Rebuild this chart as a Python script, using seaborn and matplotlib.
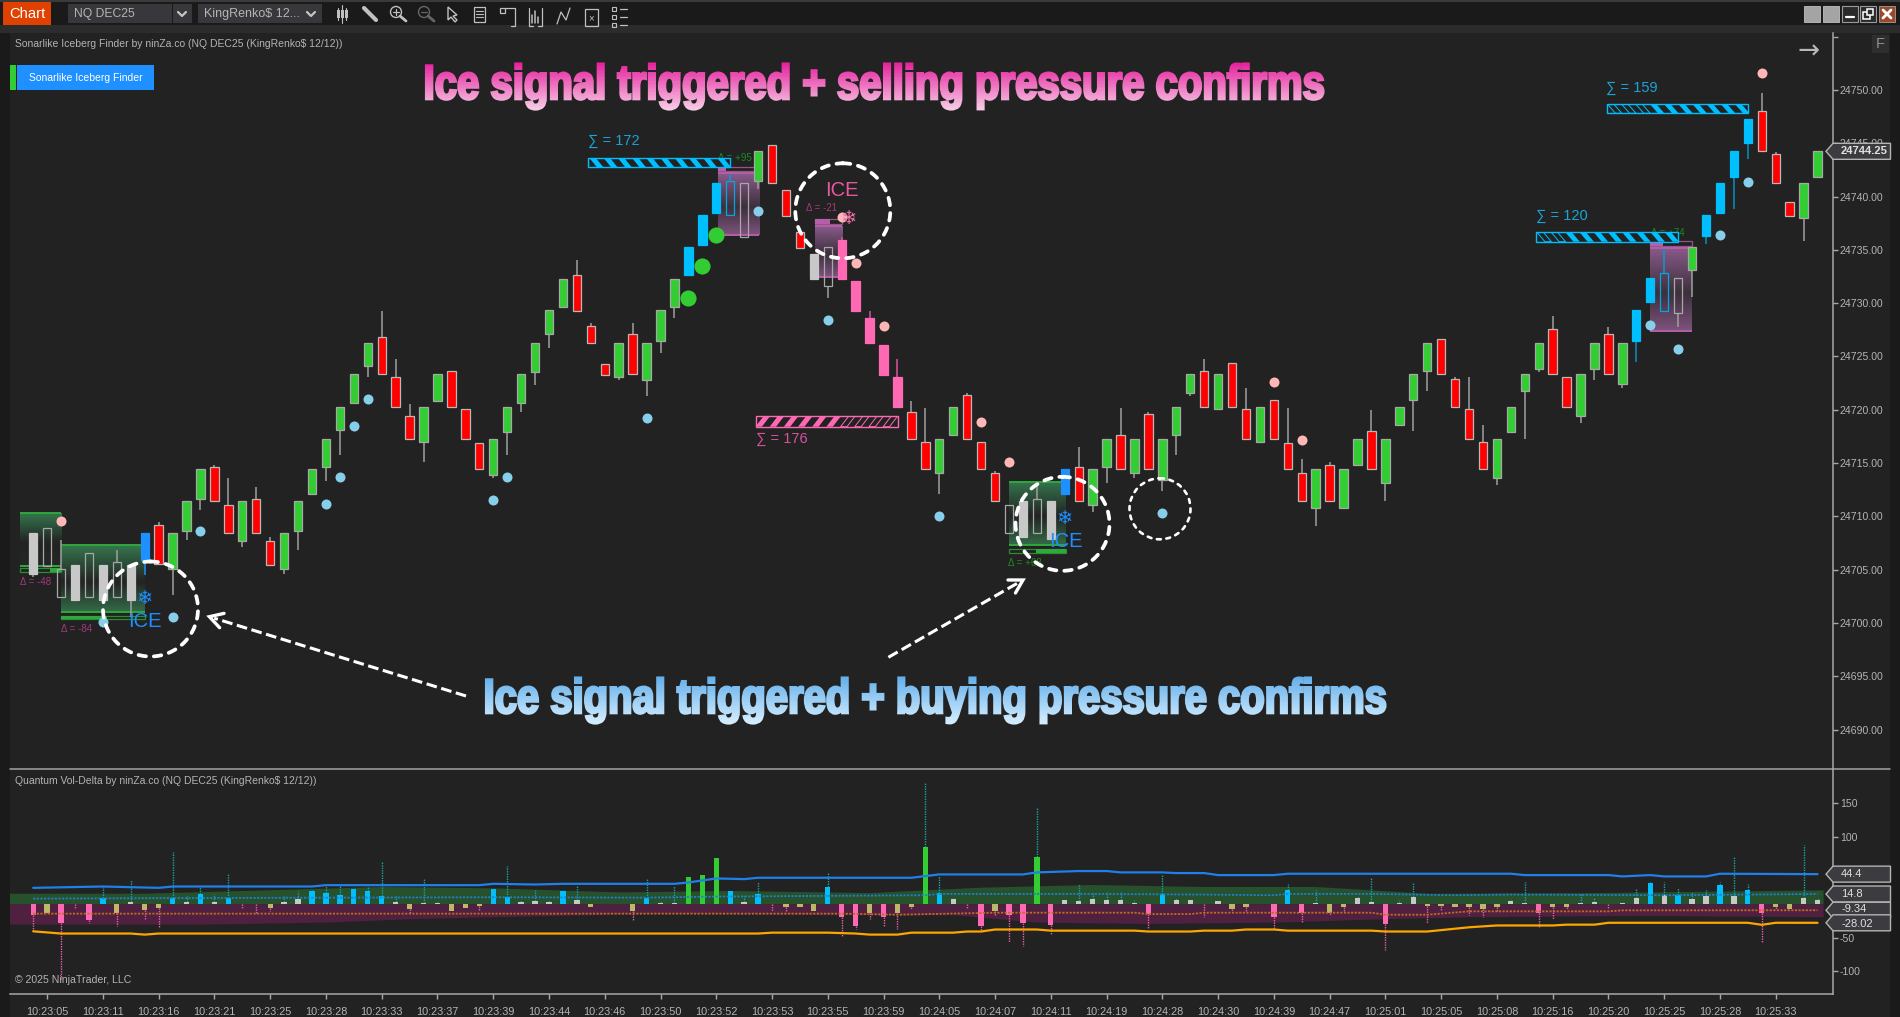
import numpy as np
import pandas as pd
import matplotlib
matplotlib.use("Agg")
import matplotlib.pyplot as plt
from matplotlib.font_manager import FontProperties
from matplotlib.patches import Rectangle, Circle, Polygon
from matplotlib.patheffects import AbstractPathEffect
from matplotlib.textpath import TextPath
from matplotlib.transforms import Affine2D, Bbox
import seaborn as sns

# ---- candles (renko bars, one per slot) ----
body_top = [
    24708.4, 24708.9, 24705.1, 24705.4, 24706.6, 24705.4, 24705.7, 24705.4, 24708.4, 24709.2,
    24708.4, 24711.4, 24714.4, 24714.6, 24711.1, 24711.4, 24711.6, 24707.7, 24708.4, 24711.4,
    24714.4, 24717.3, 24720.3, 24723.4, 24726.3, 24726.8, 24723.1, 24719.4, 24720.3, 24723.4,
    24723.6, 24720.1, 24716.9, 24717.3, 24720.3, 24723.4, 24726.3, 24729.4, 24732.3, 24732.6,
    24727.9, 24724.3, 24726.3, 24727.1, 24726.3, 24729.4, 24732.3, 24735.3, 24738.3, 24741.3,
    24741.5, 24741.3, 24744.3, 24744.8, 24740.6, 24736.7, 24734.6, 24735.3, 24735.9, 24732.1,
    24728.6, 24726.1, 24723.1, 24719.8, 24717.0, 24717.3, 24720.3, 24721.4, 24717.0, 24714.1,
    24711.1, 24711.4, 24711.6, 24711.4, 24714.4, 24714.6, 24714.4, 24717.3, 24717.6, 24717.3,
    24719.6, 24717.3, 24720.3, 24723.4, 24723.6, 24723.4, 24724.4, 24720.1, 24720.3, 24720.9,
    24716.9, 24714.1, 24714.4, 24714.8, 24714.4, 24717.3, 24718.0, 24717.3, 24720.3, 24723.4,
    24726.3, 24726.6, 24722.9, 24720.1, 24717.0, 24717.3, 24720.3, 24723.4, 24726.3, 24727.6,
    24723.1, 24723.4, 24726.3, 24727.1, 24726.3, 24729.4, 24732.4, 24732.8, 24732.4, 24735.3,
    24738.3, 24741.3, 24744.3, 24747.3, 24748.0, 24744.0, 24739.5, 24741.3, 24744.3,
]
body_bot = [
    24704.6, 24705.3, 24702.4, 24702.2, 24702.4, 24702.2, 24702.4, 24702.2, 24705.9, 24705.5,
    24705.1, 24708.6, 24711.6, 24711.4, 24708.4, 24707.7, 24708.4, 24705.4, 24705.1, 24708.6,
    24712.1, 24714.6, 24718.1, 24720.6, 24724.1, 24723.4, 24720.3, 24717.3, 24717.0, 24720.8,
    24720.3, 24717.3, 24714.4, 24713.9, 24717.9, 24720.6, 24723.5, 24727.1, 24729.6, 24729.3,
    24726.3, 24723.3, 24723.1, 24723.4, 24722.8, 24726.5, 24729.6, 24732.6, 24735.5, 24738.5,
    24738.3, 24736.2, 24741.5, 24741.3, 24738.2, 24735.2, 24732.3, 24731.6, 24732.3, 24729.3,
    24726.3, 24723.3, 24720.3, 24717.3, 24714.4, 24714.1, 24717.6, 24717.3, 24714.4, 24711.4,
    24708.4, 24708.1, 24708.4, 24707.9, 24712.1, 24711.4, 24711.1, 24714.6, 24714.4, 24714.1,
    24714.4, 24713.4, 24717.6, 24721.6, 24720.3, 24720.1, 24720.3, 24717.3, 24717.0, 24717.3,
    24714.4, 24711.4, 24710.8, 24711.4, 24710.8, 24714.8, 24714.4, 24713.1, 24718.6, 24720.9,
    24723.6, 24723.4, 24720.3, 24717.3, 24714.4, 24713.6, 24717.9, 24721.8, 24723.8, 24723.4,
    24720.3, 24719.4, 24723.8, 24723.4, 24722.4, 24726.5, 24730.1, 24729.3, 24729.1, 24733.1,
    24736.3, 24738.5, 24741.8, 24745.0, 24744.3, 24741.3, 24738.2, 24738.0, 24741.8,
]
candle_kind = (
    "s h h s h s h s d r  g g g r r g r r g g  g g g g g r r r g g  r r r g g g g g g r "
    "r r g r g g g b b b  B h g r r r s h p p  p p p r r g g r r r  h s h s d r g g r g "
    "r g g g r g r r g r  r r g r g g r g g g  g r r r r g g g g r  r g g r g b b B h g "
    "b b b b r r r g g"
).split()
wick_high = {
    2: 24707.8, 6: 24706.8, 9: 24709.5, 13: 24714.8, 14: 24713.6, 16: 24712.8, 17: 24708.1,
    25: 24729.3, 26: 24724.8, 27: 24720.5, 39: 24734.1, 40: 24728.1, 43: 24728.1, 50: 24742.1,
    58: 24736.25, 60: 24729.3, 62: 24724.8, 63: 24720.8, 64: 24720.2, 67: 24721.6, 69: 24714.3,
    72: 24712.9, 75: 24716.5, 78: 24720.2, 80: 24719.8, 84: 24724.8, 87: 24722.0, 90: 24720.2,
    91: 24715.4, 93: 24715.1, 96: 24720.0, 102: 24723.05, 103: 24723.05, 104: 24718.6,
    109: 24728.8, 113: 24727.8, 117: 24735.2, 124: 24749.7, 125: 24744.2,
}
wick_low = {
    0: 24704.3, 7: 24700.6, 8: 24704.5, 10: 24702.6, 11: 24707.8, 12: 24710.6, 15: 24707.1,
    18: 24704.6, 19: 24706.8, 21: 24713.3, 22: 24715.8, 24: 24723.1, 28: 24715.1, 33: 24713.6,
    34: 24715.8, 35: 24719.8, 36: 24722.3, 37: 24725.8, 42: 24722.8, 44: 24721.3, 45: 24725.3,
    46: 24728.6, 52: 24740.7, 57: 24730.5, 65: 24712.1, 76: 24710.4, 77: 24713.1, 79: 24713.6,
    81: 24712.4, 82: 24715.8, 83: 24721.3, 92: 24709.1, 97: 24711.4, 99: 24718.05, 100: 24721.8,
    105: 24712.9, 107: 24717.3, 108: 24723.5, 111: 24718.8, 112: 24722.8, 114: 24722.0,
    115: 24724.5, 118: 24727.8, 119: 24730.6, 120: 24735.6, 122: 24738.8, 123: 24743.5, 127: 24735.8,
}

# ---- signal dots ----
sky_i = [12, 21, 22, 23, 24, 33, 34, 44, 5, 10, 52, 57, 65, 81, 116, 118, 121, 123]
sky_p = [24708.6, 24711.2, 24713.7, 24718.5, 24721.0, 24711.55, 24713.7, 24719.2, 24700.1, 24700.6,
         24738.65, 24728.4, 24710.0, 24710.3, 24728.0, 24725.7, 24736.4, 24741.4]
rose_i = [2, 58, 59, 61, 68, 70, 89, 91, 124]
rose_p = [24709.6, 24738.1, 24733.8, 24727.9, 24718.9, 24715.1, 24722.65, 24717.2, 24751.6]
lime_i = [47, 48, 49]
lime_p = [24730.5, 24733.5, 24736.4]

# ---- iceberg zones ----
zone_start = [-0.95, 2.0, 49.13, 56.1, 70.03, 116.0]
zone_end = [2.02, 8.0, 52.1, 58.05, 74.1, 119.0]
zone_top = [24710.3, 24707.27, 24742.2, 24737.25, 24713.26, 24735.2]
zone_bot = [24705.36, 24700.99, 24736.4, 24732.5, 24707.3, 24727.4]
strip_top = [24705.2, 24700.7, 24742.8, 24737.9, 24706.95, 24735.85]
strip_bot = [24704.75, 24700.36, 24742.4, 24737.4, 24706.55, 24735.4]
zone_side = ["buy", "buy", "sell", "sell", "buy", "sell"]
strip_fill = [(0.72, 1.0), (0.0, 0.55), (0.0, 0.2), (0.0, 0.55), (0.47, 1.0), (0.0, 0.3)]

price_ticks = [24690, 24695, 24700, 24705, 24710, 24715, 24720, 24725, 24730, 24735, 24740, 24745, 24750]
last_price = 24744.25

# ---- lower panel: volume delta ----
delta = [
    -16, -13, -29, 0, -24, 9, -13, 3, -9, -6,
    9, 3, 15, 3, 9, 0, 0, -6, 3, 7.5,
    20, 16, 13, 22, 19, 12, 3, -8, 1.5, 1.5,
    -10, -6, -3, 22, 10, 3, 4.5, 3, 19, 6,
    -4, 0, 0, -10, 9, 1, 2, 40, 43, 69,
    19, 3, 15, 0, -4, -5, -10, 25, -20, -33,
    -13, -20, -14, -4, 85, 16, 7, 0, -33, -10,
    -17, -29, 70, -32, 6, 4.5, 7.5, 6, 6, 1,
    -15, 15, 6, 6, 0, 4.5, -7, -4, 0, -19,
    21, -13, 1, -13, -4, 9, 3, -30, 1, 10,
    -3, -3, -4, -4, -7, -4, 4.5, 1, -13, -5,
    -5, 1, 3, 0, 1, 9, 31, 13, 13, 7,
    12, 28, 12, 21, -13, -4, -7, 9, 6,
]
delta_kind = (
    "p k p - p b k s k k  b s b s b - - k s s  b b b b b b s k s s  k k k b b s s s b s "
    "k - - k b s s g g g  b s b - k k k b p p  k p k k g b s - p k  p p g p s s s s s s "
    "p b s s - s k k - p  b p s k k s s p s s  k k k k k k s s p k  k s s - s s b s b s "
    "s b s b p k k s s"
).split()
delta_wick = [
    -42, 0, -112, -6, -28, 25, -33, 36, -22, -34,
    77, 12, 25, 15, 45, -7, -14, -11, 12, 19,
    21, 30, 30, 0, 27, 62, 12, -14, 39, 2.5,
    0, 0, -11, 0, 57, 6, 21, 6, 0, 27,
    0, 0, 0, -26, 39, 4, 27, 0, 0, 0,
    0, 12, 33, -11, -11, 0, 0, 48, -47, -37,
    -22, -34, -37, -8, 180, 42, 9, -8, -40, -17,
    -57, -63, 145, -46, 0, 30, 17, 18, 18, 6,
    -37, 45, 9, 0, -20, 0, -12, -12, 0, -37,
    30, -27, 21, -17, -11, 12, 39, -69, 6, 33,
    -28, -11, 0, -17, -19, -11, 6, 33, -36, -22,
    -7, 15, 9, -8, 3, 24, 32, 33, 24, 18,
    21, 33, 70, 30, -57, -8, 0, 88, 9,
]
upper_band_i = [-1.7, 8, 20, 25, 33, 42, 50, 60, 68, 76, 84, 92, 100, 112, 128.4]
upper_band_v = [16, 16, 23, 26, 24, 18, 20, 17, 25, 29, 26, 26, 16, 17, 21]
lower_band_i = [-1.7, 12, 21, 27, 33, 42, 46, 57, 66, 72, 80, 89, 97, 103, 115, 128.4]
lower_band_v = [-30, -30, -27, -22, -19, -15, -14, -16, -16, -27, -29, -27, -22, -19, -17, -19]
max_i = [0, 5, 9, 10, 20, 21, 32, 33, 36, 38, 46, 47, 49, 51, 52, 63, 65, 71, 72, 75, 77, 78, 81, 82,
         84, 85, 89, 90, 106, 107, 113, 114, 116, 117, 120, 121, 128]
max_v = [24, 26, 24, 26, 26, 28, 28, 30, 29, 30, 30, 32, 38, 37, 39, 39, 44, 44, 47, 49, 49, 47, 47, 46,
         46, 43, 43, 45, 45, 43, 43, 41, 43, 41, 41, 45, 44.4]
min_i = [0, 2, 7, 8, 9, 52, 53, 57, 59, 60, 62, 63, 66, 67, 68, 69, 72, 73, 79, 80, 83, 84, 86, 87, 89,
         90, 96, 97, 100, 103, 105, 109, 110, 112, 113, 123, 124, 125, 128]
min_v = [-40.7, -44, -44, -45.6, -44, -44, -42.7, -42.7, -44, -45.6, -45.6, -42.7, -42.7, -41, -41, -38,
         -38, -39.7, -39.7, -41, -41, -39.7, -39.7, -38, -38, -39.7, -39.7, -41, -41, -34.7, -32, -32,
         -30.8, -30.8, -28, -28, -31, -28, -28.02]
buy_avg_i = [0, 14, 33, 44, 49, 64, 65, 75, 84, 89, 90, 96, 102, 106, 117, 128]
buy_avg_v = [8, 9, 10, 9.4, 11, 13, 15, 15, 14, 13, 15, 15, 13, 14, 13, 14.8]
sell_avg_i = [0, 58, 62, 69, 79, 80, 83, 84, 96, 97, 100, 103, 113, 114, 128]
sell_avg_v = [-14.4, -14.4, -16, -13, -13, -15, -15, -13, -13, -16, -16, -11, -11, -9.5, -9.34]
panel_ticks = [-100, -50, 0, 50, 100, 150]
panel_labels = ["-100", "-50", "", "", "100", "150"]  # 0 and 50 sit behind the value flags
panel_flags = [44.4, 14.8, -9.34, -28.02]

time_ticks = list(range(1, 129, 4))
time_labels = [
    "10:23:05", "10:23:11", "10:23:16", "10:23:21", "10:23:25", "10:23:28", "10:23:33", "10:23:37",
    "10:23:39", "10:23:44", "10:23:46", "10:23:50", "10:23:52", "10:23:53", "10:23:55", "10:23:59",
    "10:24:05", "10:24:07", "10:24:11", "10:24:19", "10:24:28", "10:24:30", "10:24:39", "10:24:47",
    "10:25:01", "10:25:05", "10:25:08", "10:25:16", "10:25:20", "10:25:25", "10:25:28", "10:25:33",
]

BG = "#222222"
TXT = "#b4b4b4"
candle_fill = {"g": "#32cd32", "r": "#ff0000", "b": "#00bfff", "d": "#1e90ff", "p": "#ff69b4", "s": "#c8c8c8",
               "h": "none", "B": "none"}
candle_edge = {"g": "#a8a8a8", "r": "#b8b8b8", "b": "#00bfff", "d": "#1e90ff", "p": "#ff69b4", "s": "#c8c8c8",
               "h": "#a8a8a8", "B": "#00a8e0"}
wick_color = {"b": "#0a8fc0", "B": "#0a9ad0", "d": "#1e90ff", "p": "#e0509c"}
delta_colors = {"b": "#00bfff", "s": "#c8c8c8", "k": "#bdb76b", "p": "#ff69b4", "g": "#32cd32"}

sns.set_theme(style="dark", rc={"axes.facecolor": BG, "figure.facecolor": "#1a1a1a", "axes.grid": False})
plt.rcParams["font.family"] = ["Liberation Sans", "DejaVu Sans"]

W, H = 1900, 1017
fig = plt.figure(figsize=(19, 10.17), dpi=100)


class GradientFill(AbstractPathEffect):
    # fills a text with a vertical colour ramp, and squeezes it into a narrower width
    def __init__(self, top, bottom, squeeze=1.0, bolden=2.0, bands=36):
        self.top = np.array(matplotlib.colors.to_rgb(top))
        self.bottom = np.array(matplotlib.colors.to_rgb(bottom))
        self.squeeze, self.bolden, self.bands = squeeze, bolden, bands

    def draw_path(self, renderer, gc, tpath, affine, rgbFace=None):
        box = tpath.transformed(affine).get_extents()
        aff = affine + Affine2D().translate(-box.x0, 0).scale(self.squeeze, 1).translate(box.x0, 0)
        box = tpath.transformed(aff).get_extents()
        edges = np.linspace(box.y1 + 2, box.y0 - 2, self.bands + 1)
        for k in range(self.bands):
            col = tuple(self.top + (self.bottom - self.top) * k / (self.bands - 1))
            g = renderer.new_gc()
            g.copy_properties(gc)
            g.set_clip_rectangle(Bbox([[box.x0 - 5, edges[k + 1]], [box.x1 + 5, edges[k]]]))
            g.set_linewidth(self.bolden)
            g.set_foreground(col)
            g.set_joinstyle("miter")
            renderer.draw_path(g, tpath, aff, col)
            g.restore()


# ---- pixel layer behind the axes: window, toolbar ----
back = fig.add_axes([0, 0, 1, 1], zorder=-1)
back.set_xlim(0, W)
back.set_ylim(H, 0)
back.axis("off")
back.add_patch(Rectangle((0, 0), W, 2, color="#3a3a3a", lw=0))
back.add_patch(Rectangle((0, 25), W, 8, color="#2c2c2c", lw=0))
back.add_patch(Rectangle((10, 33), 1880, H - 33, color=BG, lw=0))
back.add_patch(Rectangle((3, 2), 48, 23, color="#e04000", lw=0))
back.text(27, 14, "Chart", color="white", fontsize=10.6, ha="center", va="center")
back.add_patch(Rectangle((68, 4), 104, 19, color="#38383c", lw=0))
back.add_patch(Rectangle((173, 4), 19, 19, color="#38383c", lw=0))
back.add_patch(Rectangle((198, 4), 124, 19, color="#38383c", lw=0))
back.text(74, 14, "NQ DEC25", color=TXT, fontsize=8.7, va="center")
back.text(204, 14, "KingRenko$ 12...", color=TXT, fontsize=9, va="center")
for cx in [182, 311]:
    back.plot([cx - 4, cx, cx + 4], [12, 16, 12], color="#c4c4c4", lw=1.6)

ic = "#c0c0c0"
for cx, h in zip([338, 342, 346], [6, 9, 6]):
    back.plot([cx, cx], [14 - h, 14 + h], color=ic, lw=0.8)
    back.add_patch(Rectangle((cx - 1, 10), 2.5, 8, color=ic, lw=0))
back.plot([364, 376], [8, 20], color=ic, lw=3)
for cx, col, plus in [(396, ic, True), (424, "#666666", False)]:
    back.add_patch(Circle((cx, 12), 5.5, fc="none", ec=col, lw=1))
    back.plot([cx + 4, cx + 10], [16, 21], color=col, lw=2)
    back.plot([cx - 3, cx + 3], [12, 12], color=col, lw=0.9)
    if plus:
        back.plot([cx, cx], [9, 15], color=col, lw=0.9)
back.add_patch(Polygon([(448, 7), (448, 20), (451, 17), (455, 22), (457, 20), (453, 16), (457, 15)],
                       fc="none", ec=ic, lw=1))
back.add_patch(Rectangle((474, 7), 11, 15, fc="none", ec=ic, lw=0.9))
for y in [11, 14, 17]:
    back.plot([476, 483], [y, y], color=ic, lw=0.8)
back.add_patch(Rectangle((500, 8), 5, 5, fc="none", ec=ic, lw=0.9))
back.plot([505, 515, 515, 511], [8, 8, 26, 26], color=ic, lw=0.9)
back.plot([529, 529, 533], [8, 26, 26], color=ic, lw=0.9)
back.plot([542, 542, 538], [8, 26, 26], color=ic, lw=0.9)
for cx, y0 in zip([532, 535, 538], [15, 11, 17]):
    back.plot([cx, cx], [y0, 23], color=ic, lw=1.1)
back.plot([557, 561, 566, 570], [24, 12, 20, 8], color=ic, lw=0.9)
back.add_patch(Rectangle((585, 9), 13, 17, fc="none", ec=ic, lw=0.9))
back.text(591.5, 18, "×", color=ic, fontsize=7, ha="center", va="center")
for y in [9, 17, 25]:
    back.add_patch(Rectangle((612, y - 2), 4, 4, fc="none", ec=ic, lw=0.8))
    back.plot([620, 627], [y, y], color=ic, lw=0.9)

for x0, fc in zip([1804, 1823], ["#a4a4a4", "#a4a4a4"]):
    back.add_patch(Rectangle((x0, 6), 15.5, 16, fc=fc, ec="#c0c0c0", lw=0.6))
for x0 in [1842, 1860]:
    back.add_patch(Rectangle((x0, 6), 16, 16, fc="#2a2a2a", ec="#9a9a9a", lw=0.8))
back.plot([1846, 1854], [17, 17], color="white", lw=1.6)
back.add_patch(Rectangle((1863, 12), 6.5, 6.5, fc="#2a2a2a", ec="white", lw=1.1))
back.add_patch(Rectangle((1866.5, 9), 6.5, 6, fc="#2a2a2a", ec="white", lw=1.1, zorder=1))
back.add_patch(Rectangle((1879, 6), 16, 16, fc="#9a4a2a", ec="#a0a0a0", lw=0.6))
back.plot([1883, 1891], [10, 18], color="white", lw=2)
back.plot([1883, 1891], [18, 10], color="white", lw=2)
back.add_patch(Rectangle((1872, 35), 17, 18, fc="#2e2e2e", lw=0))
back.text(1880.5, 44, "F", color="#8e8e8e", fontsize=10.5, ha="center", va="center")

# ---- price panel ----
ax = fig.add_axes([10 / W, 1 - 769 / H, 1822.5 / W, 736 / H])
candles = pd.DataFrame({"i": range(len(body_top)), "top": body_top, "bot": body_bot, "kind": candle_kind})

for s, e, t, b, st, sb, side, fill in zip(zone_start, zone_end, zone_top, zone_bot, strip_top, strip_bot,
                                          zone_side, strip_fill):
    col = "#3a8a58" if side == "buy" else "#a468a4"
    line = "#2fa83c" if side == "buy" else "#b55fa8"
    # colour at both edges of the zone, close to the background in the middle
    mid_alpha = 0.02 if side == "buy" else 0.2
    pos = np.linspace(0, 1, 60)
    alpha = np.interp(pos, [0, 0.55, 1], [0.8, mid_alpha, 0.7 if s > 0 else 0.05])
    grad = np.zeros((60, 1, 4))
    grad[..., :3] = matplotlib.colors.to_rgb(col)
    grad[:, 0, 3] = alpha
    ax.imshow(grad, extent=(s, e, b, t), aspect="auto", zorder=1.5, interpolation="bilinear")
    ax.hlines([t, b], s, e, color=line, lw=1.4, zorder=1.6)
    ax.add_patch(Rectangle((s, sb), e - s, st - sb, fc="none", ec=line, lw=0.9, alpha=0.8, zorder=1.6))
    ax.add_patch(Rectangle((s + (e - s) * fill[0], sb), (e - s) * (fill[1] - fill[0]), st - sb,
                           fc=line, lw=0, zorder=1.6))

for i in candles["i"]:
    k = candle_kind[i]
    c = wick_color.get(k, "#a0a0a0")
    if i in wick_high:
        ax.vlines(i, body_top[i], wick_high[i], color=c, lw=1.1, zorder=2)
    if i in wick_low:
        ax.vlines(i, wick_low[i], body_bot[i], color=c, lw=1.1, zorder=2)

for k, grp in candles.groupby("kind"):
    ax.bar(grp["i"], grp["top"] - grp["bot"], bottom=grp["bot"], width=0.6, color=candle_fill[k],
           edgecolor=candle_edge[k], linewidth=0.9, zorder=3)

sns.scatterplot(x=sky_i, y=sky_p, color="#87ceeb", s=52, linewidth=0, ax=ax, zorder=4)
sns.scatterplot(x=rose_i, y=rose_p, color="#ffb6b6", s=52, linewidth=0, ax=ax, zorder=4)
sns.scatterplot(x=lime_i, y=lime_p, color="#32cd32", s=135, linewidth=0, ax=ax, zorder=4)

x_left, x_right = (10 - 33.2) / 13.94, (1832.5 - 33.2) / 13.94
ax.set_xlim(x_left, x_right)
ax.set_ylim(24686.3, 24755.35)
ax.set_xticks([])
ax.yaxis.tick_right()
ax.set_yticks(price_ticks + [24755], [f"{v:.2f}" for v in price_ticks] + [""])
ax.tick_params(axis="y", length=3.8, width=1, color="#a8a8a8", labelcolor=TXT, labelsize=7.6, pad=1.5, right=True)
for name, sp in ax.spines.items():
    sp.set_visible(name == "right")
    sp.set_color("#a8a8a8")
    sp.set_linewidth(1.1)

# ---- volume delta panel ----
ax2 = fig.add_axes([10 / W, 1 - 994 / H, 1822.5 / W, 225 / H])
ax2.fill_between(upper_band_i, 0, upper_band_v, color="#27502c", lw=0, zorder=1)
ax2.fill_between(lower_band_i, 0, lower_band_v, color="#4f2040", lw=0, zorder=1)

vol = pd.DataFrame({"i": range(len(delta)), "delta": delta, "wick": delta_wick, "kind": delta_kind})
up = vol[vol["wick"] > 0]
dn = vol[vol["wick"] < 0]
ax2.vlines(up["i"], up["delta"].clip(lower=0), up["wick"], color="#17a2a2", lw=1, linestyle=(0, (1, 0.8)), zorder=2)
ax2.vlines(dn["i"], dn["delta"].clip(upper=0), dn["wick"], color="#e860a8", lw=1, linestyle=(0, (1, 0.8)), zorder=2)

bars = vol[vol["kind"] != "-"]
sns.barplot(data=bars, x="i", y="delta", hue="kind", palette=delta_colors, native_scale=True, dodge=False,
            width=0.38, saturation=1, linewidth=0, errorbar=None, legend=False, ax=ax2, zorder=3)

sns.lineplot(x=max_i, y=max_v, color="#1e80e8", lw=1.6, ax=ax2, zorder=4)
sns.lineplot(x=min_i, y=min_v, color="#ffa500", lw=1.6, ax=ax2, zorder=4)
sns.lineplot(x=buy_avg_i, y=buy_avg_v, color="#1e80c8", lw=1.3, linestyle=(0, (1.2, 0.8)), ax=ax2, zorder=4)
sns.lineplot(x=sell_avg_i, y=sell_avg_v, color="#c06a20", lw=1.3, linestyle=(0, (1.2, 0.8)), ax=ax2, zorder=4)

ax2.set_xlim(x_left, x_right)
ax2.set_ylim(-134, 200.9)
ax2.set_xlabel("")
ax2.set_ylabel("")
ax2.yaxis.tick_right()
ax2.set_yticks(panel_ticks, panel_labels)
ax2.set_xticks(time_ticks, time_labels)
ax2.tick_params(axis="y", length=3.8, width=1, color="#a8a8a8", labelcolor=TXT, labelsize=7.6, pad=1.5, right=True)
ax2.tick_params(axis="x", length=3.8, width=1, color="#a8a8a8", labelcolor=TXT, labelsize=7.8, pad=5.5, bottom=True)
for name, sp in ax2.spines.items():
    sp.set_visible(name in ("right", "bottom"))
    sp.set_color("#a8a8a8")
    sp.set_linewidth(1.1)

# ---- pixel layer on top: titles, callouts ----
top = fig.add_axes([0, 0, 1, 1], zorder=10)
top.set_xlim(0, W)
top.set_ylim(H, 0)
top.axis("off")
top.patch.set_alpha(0)
top.plot([10, 1890], [769, 769], color="#a4a4a4", lw=1.1)

top.text(15, 44, "Sonarlike Iceberg Finder by ninZa.co (NQ DEC25 (KingRenko$ 12/12))", color=TXT,
         fontsize=7.5, va="center")
top.text(15, 781, "Quantum Vol-Delta by ninZa.co (NQ DEC25 (KingRenko$ 12/12))", color=TXT, fontsize=7.5, va="center")
top.text(15, 980, "© 2025 NinjaTrader, LLC", color=TXT, fontsize=7.55, va="center")
top.add_patch(Rectangle((10, 65), 6, 25, color="#32cd32", lw=0))
top.add_patch(Rectangle((17, 65), 137, 25, color="#1e90ff", lw=0))
top.text(85.5, 78, "Sonarlike Iceberg Finder", color="white", fontsize=7.5, ha="center", va="center")
top.text(1809, 52, "→", color="#b8b8b8", fontsize=19, ha="center", va="center", family="DejaVu Sans")


def big_title(s, x0, x1, base, c_top, c_bottom):
    fs_pt = 35
    fp = FontProperties(family="Liberation Sans", weight="bold", size=fs_pt)
    width = TextPath((0, 0), s, prop=fp).get_extents().width * 100 / 72
    t = top.text(x0, base, s, fontproperties=fp, color=c_top, va="baseline", ha="left")
    t.set_path_effects([GradientFill(c_top, c_bottom, squeeze=(x1 - x0 - 3) / width, bolden=1.9)])


big_title("Ice signal triggered + selling pressure confirms", 423, 1323, 99, "#e4209c", "#f8d0e8")
big_title("Ice signal triggered + buying pressure confirms", 483, 1385, 713, "#62aeea", "#d8f0ff")

# hatched sigma bars
SEG = 10


def sigma_bar(x0, x1, y0, y1, filled, col, lean):
    box = Rectangle((x0, y0), x1 - x0, y1 - y0, fc=BG, ec=col, lw=1, zorder=5)
    top.add_patch(box)
    w = (x1 - x0) / SEG
    for n in range(SEG):
        xs = x0 + n * w
        a, b = (xs + 1, xs + 1 + w * 0.45) if lean > 0 else (xs + w * 0.55, xs + w)
        sl = lean * 8
        poly = Polygon([(a, y0), (b, y0), (b + sl, y1), (a + sl, y1)], zorder=5.1,
                       fc=col if filled[n] else "none", ec=col, lw=0.7 if not filled[n] else 0)
        top.add_patch(poly)
        poly.set_clip_path(box)


sigma_bar(588, 730, 157.5, 167.3, [1] * 10, "#00bfff", 1)
sigma_bar(755.7, 897.5, 416.3, 426.7, [1] * 6 + [0] * 4, "#ff69b4", -1)
sigma_bar(1536, 1677.9, 232.3, 241.7, [0] * 2 + [1] * 8, "#00bfff", 1)
sigma_bar(1606.5, 1748.3, 104.3, 113.3, [0] * 3 + [1] * 7, "#00bfff", 1)
sig_kw = dict(fontsize=10.5, va="center", zorder=6)
top.text(588, 141.5, "∑ = 172", color="#1ba3d6", **sig_kw)
top.text(755.7, 439.5, "∑ = 176", color="#d9509f", **sig_kw)
top.text(1536, 215.7, "∑ = 120", color="#1ba3d6", **sig_kw)
top.text(1606.5, 87.7, "∑ = 159", color="#1ba3d6", **sig_kw)

d_kw = dict(fontsize=7, ha="center", va="center", zorder=4)
top.text(35.2, 582, "Δ = -48", color="#a3387c", **d_kw)
top.text(77, 629.3, "Δ = -84", color="#a3387c", **d_kw)
top.text(735, 158.3, "Δ = +95", color="#1f8a1f", **d_kw)
top.text(822, 208, "Δ = -21", color="#a3387c", **d_kw)
top.text(1025, 562.7, "Δ = +68", color="#1f8a1f", **d_kw)
top.text(1667.5, 232.7, "Δ = +74", color="#1f8a1f", **d_kw)

ice_kw = dict(fontsize=14.5, ha="center", va="center", zorder=7)
top.text(144.7, 621.7, "ICE", color="#1e8fff", **ice_kw)
top.text(841.5, 190, "ICE", color="#e8589f", **ice_kw)
top.text(1065.8, 541.7, "ICE", color="#1e8fff", **ice_kw)
flake_kw = dict(fontsize=14, ha="center", va="center", zorder=3, family="DejaVu Sans")
top.text(144.7, 599, "❄", color="#1e8fff", **flake_kw)
top.text(848, 219, "❄", color="#f070a8", **flake_kw)
top.text(1065, 519, "❄", color="#1e8fff", **flake_kw)

# dashed callouts
for cx, cy, r, lw, dash in [(150.5, 609, 47.5, 2.7, (2.0, 2.1)), (842.8, 210.8, 47.5, 2.7, (2.0, 2.1)),
                            (1062.5, 523.8, 47, 2.7, (2.0, 2.1)), (1160, 508.8, 30.5, 1.9, (1.5, 2.1))]:
    top.add_patch(Circle((cx, cy), r, fc="none", ec="white", lw=lw, ls=(0, dash), capstyle="round", zorder=8))


def dashed_arrow(tail, head):
    tail, head = np.array(tail, float), np.array(head, float)
    u = (head - tail) / np.linalg.norm(head - tail)
    n = np.array([-u[1], u[0]])
    top.plot([tail[0], head[0] - u[0] * 5], [tail[1], head[1] - u[1] * 5], color="white", lw=2.2,
             ls=(0, (3.5, 1.5)), zorder=8)
    p1, p2 = head - u * 13 + n * 7.5, head - u * 13 - n * 7.5
    top.plot([p1[0], head[0], p2[0]], [p1[1], head[1], p2[1]], color="white", lw=2.4, solid_capstyle="round",
             solid_joinstyle="miter", zorder=8)


dashed_arrow((466, 696), (209.4, 616.7))
dashed_arrow((888.4, 657.3), (1023, 580))


# value flags on the right axis
def flag(y, s, bold=False, nudge=0):
    top.add_patch(Polygon([(1826, y), (1833, y - 8), (1890.5, y - 8), (1890.5, y + 8), (1833, y + 8)],
                          fc="#3c3c40", ec="#b4b4b4", lw=1, zorder=9))
    top.text(1841, y + nudge, s, color="#e0e0e0", fontsize=8, ha="left", va="center", zorder=9.5,
             fontweight="bold" if bold else "normal")


fig.canvas.draw()
for v, nudge in zip(panel_flags, [0, 0, -1, 1]):
    py = H - ax2.transData.transform((0, v))[1]
    flag(py, f"{v:g}", nudge=nudge)
flag(H - ax.transData.transform((0, last_price))[1], f"{last_price:.2f}", bold=True)

fig.savefig("out.png", dpi=100)
